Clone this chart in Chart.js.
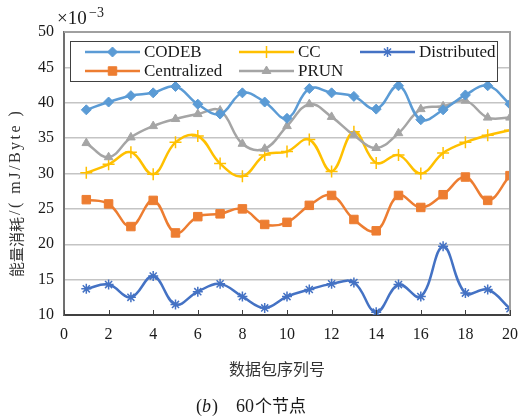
<!DOCTYPE html>
<html>
<head>
<meta charset="utf-8">
<script src="https://cdn.jsdelivr.net/npm/chart.js@4.4.1/dist/chart.umd.min.js"></script>
<style>
html, body { margin: 0; padding: 0; background: #fff; }
</style>
</head>
<body>
<canvas id="energyChart" width="519" height="420"></canvas>
<script>
// packet sequence numbers
const packetIds = [1, 2, 3, 4, 5, 6, 7, 8, 9, 10, 11, 12, 13, 14, 15, 16, 17, 18, 19, 20];

// energy per byte (x10^-3 mJ/Byte)
const codebData       = [39.0, 40.1, 41.0, 41.4, 42.3, 39.8, 38.4, 41.4, 40.1, 37.8, 42.0, 41.4, 40.9, 39.1, 42.4, 37.6, 39.0, 41.1, 42.4, 39.8];
const ccData          = [30.1, 31.3, 33.0, 29.9, 34.4, 35.3, 31.4, 29.6, 32.6, 33.1, 34.8, 30.3, 35.9, 31.5, 32.6, 30.0, 32.9, 34.4, 35.4, 36.1];
const distributedData = [13.7, 14.3, 12.5, 15.5, 11.5, 13.3, 14.4, 12.6, 11.0, 12.6, 13.6, 14.4, 14.6, 10.4, 14.3, 12.6, 19.7, 13.1, 13.6, 10.9];
const centralizedData = [26.3, 25.7, 22.5, 26.2, 21.6, 23.9, 24.3, 25.0, 22.8, 23.1, 25.5, 26.9, 23.5, 21.9, 26.9, 25.2, 27.0, 29.5, 26.2, 29.7];
const prunData        = [34.3, 32.3, 35.1, 36.7, 37.7, 38.4, 38.9, 34.2, 33.5, 36.7, 39.8, 38.0, 35.4, 33.6, 35.7, 39.1, 39.5, 40.3, 37.9, 37.9];

const xTicks = [0, 2, 4, 6, 8, 10, 12, 14, 16, 18, 20];
const yTicks = [10, 15, 20, 25, 30, 35, 40, 45, 50];

const serif = '"Liberation Serif", "Times New Roman", serif';
const cjk = '"Noto Sans CJK SC", sans-serif';

function toPoints(values) {
    return values.map((v, i) => ({ x: packetIds[i], y: v }));
}

function series(label, values, color, style, radius, order) {
    return {
        label: label,
        data: toPoints(values),
        borderColor: color,
        backgroundColor: color,
        borderWidth: 2.5,
        pointStyle: style,
        pointRadius: radius,
        pointBorderWidth: style === 'cross' || style === 'star' ? 1.5 : 1,
        pointBorderColor: color,
        pointBackgroundColor: color,
        tension: 0.4,
        order: order
    };
}

// legend drawn inside the plot, two rows of three
const insideLegend = {
    id: 'insideLegend',
    afterDatasetsDraw(chart) {
        const ctx = chart.ctx;
        const a = chart.chartArea;
        const bx = a.left + 6, by = a.top + 9, bw = 427, bh = 40;
        ctx.save();
        ctx.fillStyle = '#fff';
        ctx.fillRect(bx, by, bw, bh);
        ctx.strokeStyle = '#404040';
        ctx.lineWidth = 1;
        ctx.strokeRect(bx + 0.5, by + 0.5, bw, bh);
        const colX = [15, 169, 290];
        const rowY = [11, 30];
        chart.data.datasets.forEach((ds, i) => {
            const x0 = bx + colX[i % 3];
            const y0 = by + rowY[Math.floor(i / 3)];
            ctx.strokeStyle = ds.borderColor;
            ctx.fillStyle = ds.backgroundColor;
            ctx.lineWidth = 2.5;
            ctx.beginPath();
            ctx.moveTo(x0, y0);
            ctx.lineTo(x0 + 55, y0);
            ctx.stroke();
            ctx.lineWidth = ds.pointBorderWidth;
            Chart.helpers.drawPoint(ctx, {
                pointStyle: ds.pointStyle,
                radius: ds.pointRadius,
                rotation: 0,
                borderWidth: ds.pointBorderWidth
            }, x0 + 27.5, y0);
            ctx.fillStyle = '#1a1a1a';
            ctx.font = '17px ' + serif;
            ctx.textAlign = 'left';
            ctx.textBaseline = 'middle';
            ctx.fillText(ds.label, x0 + 59, y0 + 1);
        });
        ctx.restore();
    }
};

// frame, inward ticks and the extra texts
const decorations = {
    id: 'decorations',
    afterDraw(chart) {
        const ctx = chart.ctx;
        const a = chart.chartArea;
        const xs = chart.scales.x;
        ctx.save();
        ctx.strokeStyle = '#a0a0a0';
        ctx.lineWidth = 2;
        ctx.beginPath();
        ctx.moveTo(a.left, a.top);
        ctx.lineTo(a.right, a.top);
        ctx.lineTo(a.right, a.bottom);
        ctx.stroke();

        ctx.strokeStyle = '#404040';
        ctx.lineWidth = 1;
        xTicks.forEach(t => {
            const px = Math.round(xs.getPixelForValue(t)) + 0.5;
            ctx.beginPath();
            ctx.moveTo(px, a.bottom);
            ctx.lineTo(px, a.bottom - 5);
            ctx.stroke();
        });

        ctx.fillStyle = '#1a1a1a';
        // exponent
        ctx.font = '19px ' + serif;
        ctx.textAlign = 'left';
        ctx.textBaseline = 'alphabetic';
        ctx.fillText('×10', a.left - 7, a.top - 8);
        ctx.font = '14px ' + serif;
        ctx.fillText('−3', a.left + 25, a.top - 15);

        // y title, Chinese part then spaced latin part
        ctx.save();
        ctx.translate(16, 277);
        ctx.rotate(-Math.PI / 2);
        ctx.textAlign = 'left';
        ctx.textBaseline = 'middle';
        ctx.fillStyle = '#333';
        ctx.font = '15px ' + cjk;
        ctx.fillText('能量消耗', 0, 0);
        let ty = ctx.measureText('能量消耗').width + 2;
        ctx.font = '16px ' + serif;
        ctx.letterSpacing = '2.5px';
        ctx.fillText('/( mJ/Byte )', ty, 0);
        ctx.letterSpacing = '0px';
        ctx.restore();

        // x title
        ctx.textAlign = 'center';
        ctx.textBaseline = 'middle';
        ctx.fillStyle = '#333';
        ctx.font = '16px ' + cjk;
        ctx.fillText('数据包序列号', 277, 369);

        // caption
        ctx.textAlign = 'left';
        ctx.fillStyle = '#1a1a1a';
        ctx.font = '18px ' + serif;
        let cx = 196;
        ctx.fillText('(', cx, 407);
        cx += ctx.measureText('(').width;
        ctx.font = 'italic 18px ' + serif;
        ctx.fillText('b', cx, 407);
        cx += ctx.measureText('b').width + 1;
        ctx.font = '18px ' + serif;
        ctx.fillText(')', cx, 407);
        cx += ctx.measureText(')').width + 18;
        ctx.fillText('60', cx, 407);
        cx += ctx.measureText('60').width + 1;
        ctx.font = '17px ' + cjk;
        ctx.fillText('个节点', cx, 406);
        ctx.restore();
    }
};

const ctx = document.getElementById('energyChart').getContext('2d');
const energyChart = new Chart(ctx, {
    type: 'line',
    data: {
        datasets: [
            series('CODEB', codebData, '#5B9BD5', 'rectRot', 5, 0),
            series('CC', ccData, '#FFC000', 'cross', 6, 2),
            series('Distributed', distributedData, '#4472C4', 'star', 5, 4),
            series('Centralized', centralizedData, '#ED7D31', 'rect', 6, 3),
            series('PRUN', prunData, '#A5A5A5', 'triangle', 5, 1)
        ]
    },
    options: {
        responsive: false,
        animation: false,
        devicePixelRatio: 1,
        layout: { padding: { left: 0, top: 32, right: 9, bottom: 0 } },
        plugins: {
            legend: { display: false },
            tooltip: { enabled: false }
        },
        scales: {
            x: {
                type: 'linear',
                min: 0,
                max: 20,
                afterFit: s => {
                    s.height = 105;
                    s.paddingLeft = 0;
                    s.paddingRight = 0;
                },
                afterBuildTicks: s => { s.ticks = xTicks.map(v => ({ value: v })); },
                grid: { display: false, drawTicks: false },
                border: { color: '#404040', width: 2 },
                ticks: {
                    padding: 10,
                    color: '#1a1a1a',
                    maxRotation: 0,
                    font: { family: serif, size: 16 }
                }
            },
            y: {
                min: 10,
                max: 50,
                afterFit: s => {
                    s.width = 64;
                    s.paddingTop = 0;
                    s.paddingBottom = 0;
                },
                afterBuildTicks: s => { s.ticks = yTicks.map(v => ({ value: v })); },
                grid: { color: '#c4c4c4', lineWidth: 1.5, drawTicks: false },
                border: { color: '#707070', width: 2 },
                ticks: {
                    padding: 10,
                    color: '#1a1a1a',
                    font: { family: serif, size: 16 }
                }
            }
        }
    },
    plugins: [insideLegend, decorations]
});
</script>
</body>
</html>
